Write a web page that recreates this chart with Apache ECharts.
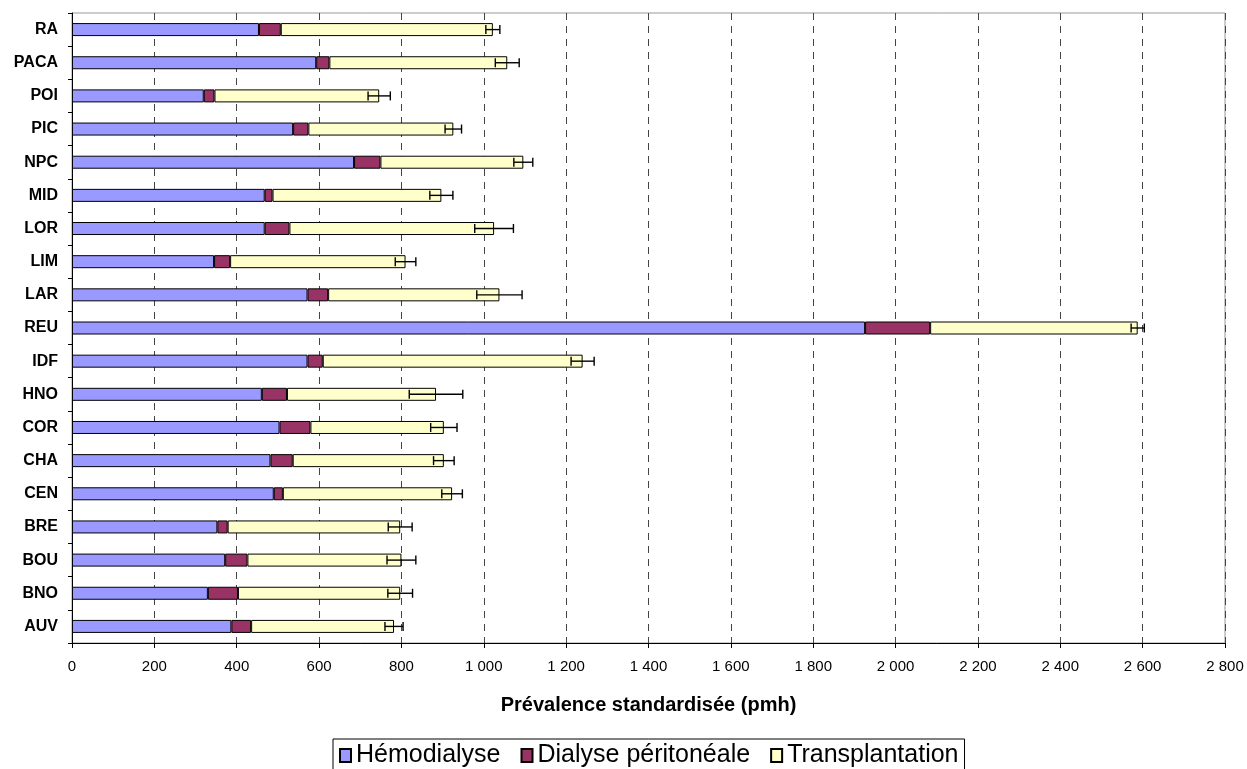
<!DOCTYPE html>
<html>
<head>
<meta charset="utf-8">
<script src="https://cdn.jsdelivr.net/npm/echarts@6/dist/echarts.min.js"></script>
<style>
html,body{margin:0;padding:0;background:#fff;}
#chart{width:1247px;height:769px;}
</style>
</head>
<body>
<div id="chart"></div>
<script>
const categories = ['AUV','BNO','BOU','BRE','CEN','CHA','COR','HNO','IDF','REU','LAR','LIM','LOR','MID','NPC','PIC','POI','PACA','RA'];
const hemodialyse = [387,330,372,353,490,482,504,461,572,1926,572,345,468,468,685,537,320,593,454];
const dialysePeritoneale = [48,73,54,25,22,54,75,61,37,158,50,39,60,19,64,37,26,32,53];
const transplantation = [347,394,374,419,411,367,324,362,631,504,416,426,497,410,347,352,400,432,515];
const errorHalf = [22,30,35,29,25,25,32,65,28,16,55,25,47,28,23,20,27,29,17];
const xTicks = {min:0, max:2800, interval:200};

const FONT = '"Liberation Sans", Arial, sans-serif';
const chart = echarts.init(document.getElementById('chart'));

const errData = categories.map((c,i)=>[hemodialyse[i]+dialysePeritoneale[i]+transplantation[i], i, errorHalf[i]]);

const barCommon = {
  type:'bar', stack:'total', barWidth:13,
  emphasis:{disabled:true}
};

chart.setOption({
  animation:false,
  textStyle:{fontFamily:FONT},
  grid:{left:72, right:22, top:13, bottom:126, show:true, borderColor:'#999', borderWidth:1, containLabel:false},
  legend:{
    bottom:-4, left:333,
    data:['Hémodialyse','Dialyse péritonéale','Transplantation'],
    icon:'rect', itemWidth:11, itemHeight:13, itemGap:20,
    borderColor:'#000', borderWidth:1, padding:[4,6,5,6],
    textStyle:{fontSize:25, color:'#000', fontFamily:FONT},
    selectedMode:false
  },
  xAxis:{
    type:'value', min:xTicks.min, max:xTicks.max, interval:xTicks.interval,
    name:'Prévalence standardisée (pmh)', nameLocation:'middle', nameGap:52,
    nameTextStyle:{fontSize:20, fontWeight:'bold', color:'#000', fontFamily:FONT},
    axisLine:{show:true, lineStyle:{color:'#000', width:1}},
    axisTick:{show:true, length:5, lineStyle:{color:'#000'}},
    axisLabel:{fontSize:15, color:'#000', margin:16, fontFamily:FONT,
      formatter:v=>String(v).replace(/\B(?=(\d{3})+(?!\d))/g,' ')},
    splitLine:{show:true, lineStyle:{color:'#444', type:[7,6], width:1}}
  },
  yAxis:{
    type:'category', data:categories,
    axisLine:{show:true, lineStyle:{color:'#000', width:1}},
    axisTick:{show:true, length:4, lineStyle:{color:'#000'}},
    axisLabel:{fontSize:16, fontWeight:'bold', color:'#000', margin:14, fontFamily:FONT},
    splitLine:{show:false}
  },
  series:[
    Object.assign({}, barCommon, {name:'Hémodialyse', data:hemodialyse, itemStyle:{color:'#9999FF', borderColor:'#000', borderWidth:1}}),
    Object.assign({}, barCommon, {name:'Dialyse péritonéale', data:dialysePeritoneale, itemStyle:{color:'#993366', borderColor:'#000', borderWidth:1}}),
    Object.assign({}, barCommon, {name:'Transplantation', data:transplantation, itemStyle:{color:'#FFFFCC', borderColor:'#000', borderWidth:1}}),
    {
      type:'custom', name:'err', z:10, silent:true,
      encode:{x:0, y:1},
      data:errData,
      renderItem:function(params, api){
        const v = api.value(0), idx = api.value(1), e = api.value(2);
        const p1 = api.coord([v-e, idx]);
        const p2 = api.coord([v+e, idx]);
        const h = 4.5;
        const style = {stroke:'#000', lineWidth:1.4};
        return {type:'group', children:[
          {type:'line', shape:{x1:p1[0], y1:p1[1], x2:p2[0], y2:p2[1]}, style:style},
          {type:'line', shape:{x1:p1[0], y1:p1[1]-h, x2:p1[0], y2:p1[1]+h}, style:style},
          {type:'line', shape:{x1:p2[0], y1:p2[1]-h, x2:p2[0], y2:p2[1]+h}, style:style}
        ]};
      }
    }
  ]
});
</script>
</body>
</html>
